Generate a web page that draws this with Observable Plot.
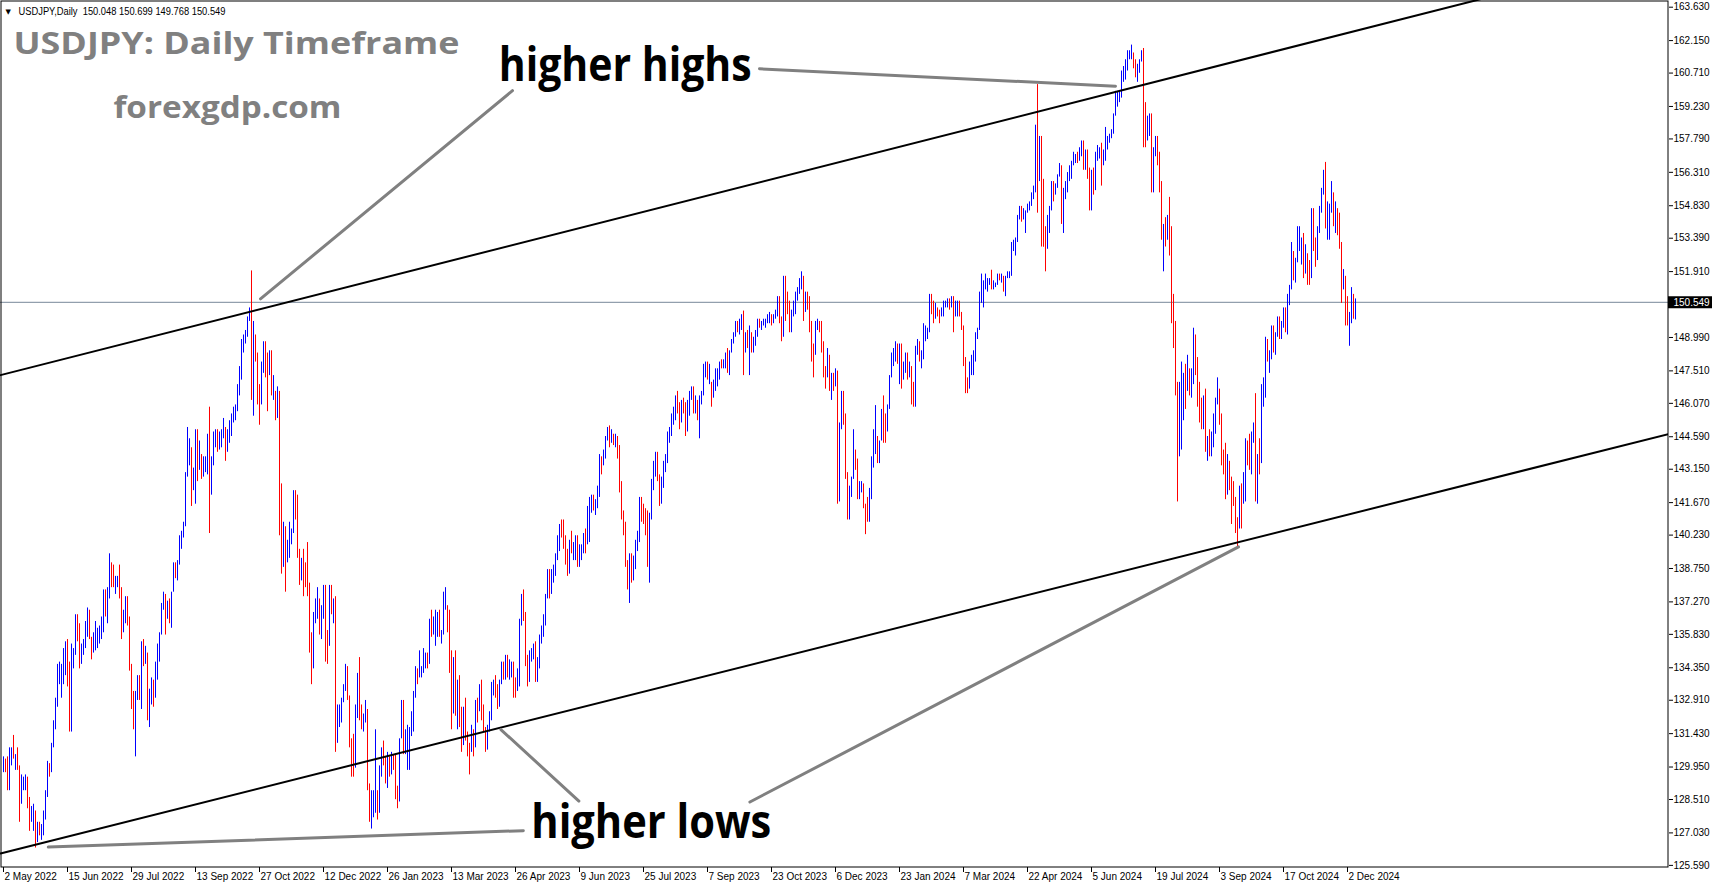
<!DOCTYPE html>
<html><head><meta charset="utf-8">
<script src="https://cdn.jsdelivr.net/npm/d3@7"></script>
<script src="https://cdn.jsdelivr.net/npm/@observablehq/plot@0.6"></script>
<style>html,body{margin:0;padding:0;background:#fff;overflow:hidden}</style>
</head><body><div id="chart"></div>
<script>
// ---------- DATA ----------
const symbol = "USDJPY", timeframe = "Daily";
const startDate = "2022-05-02";
const holidays = ["2022-12-26", "2023-12-25", "2024-01-01"];
const firstOpen = 129.9;
const lastOpen = 150.048;

const hi2022 = [
130.4,130.3,130.4,130.8,130.8,131.35,130.5,130.8,130.0,129.6,129.5,129.6,129.5,128.6,128.2,128.3,128.0,127.5,127.5,127.4,128.0,128.9,
130.2,130.1,131.0,132.0,133.0,134.5,134.6,134.5,135.2,135.5,135.6,134.6,135.4,135.2,136.7,136.7,136.3,135.4,135.6,136.4,137.0,136.9,
135.7,135.9,136.4,136.1,136.2,136.6,137.8,137.8,137.9,139.4,139.0,138.9,138.4,138.4,138.9,137.9,136.9,137.5,137.5,136.6,134.5,
133.3,133.3,134.0,134.0,135.5,135.6,135.3,135.0,133.4,133.9,133.8,134.6,135.4,135.9,137.2,137.7,137.6,137.3,137.4,137.7,139.0,139.0,139.1,
140.2,140.4,140.8,143.0,145.0,144.5,144.1,143.2,144.9,144.9,144.4,143.8,143.7,143.7,144.7,145.9,143.7,144.8,144.9,144.9,144.8,144.9,
145.4,145.0,144.9,145.3,145.6,145.9,146.0,146.9,147.7,148.9,149.1,149.3,149.9,150.3,151.94,149.7,149.1,148.3,146.9,147.9,148.8,
148.8,148.3,148.4,148.4,147.3,146.6,146.8,146.6,142.5,140.8,140.6,140.0,140.8,140.5,142.2,142.2,142.0,139.6,139.2,139.6,139.0,139.9,
138.1,135.9,136.8,137.4,137.9,137.4,137.1,138.0,138.0,136.0,138.0,138.0,137.4,137.5,132.7,132.7,133.0,133.6,134.5,134.4,133.1];
const lo2022 = [
129.7,129.7,128.9,128.9,130.0,130.3,129.8,129.8,127.5,128.3,128.9,128.9,128.1,127.1,127.5,127.1,126.36,126.6,126.9,126.7,126.9,127.6,
128.6,129.5,129.7,130.8,131.6,132.6,133.6,133.0,133.6,134.0,133.5,131.5,131.5,134.3,134.9,135.5,134.3,134.5,134.9,135.2,135.7,135.6,
134.7,135.0,135.1,135.2,135.4,135.6,135.9,136.6,136.3,137.4,137.9,137.9,137.6,137.9,137.4,135.6,135.9,136.3,136.2,134.2,132.5,
131.6,130.4,132.9,132.9,132.5,134.4,134.5,132.0,131.7,132.7,132.6,133.0,133.8,134.6,135.8,136.9,135.8,136.5,136.3,136.1,137.7,138.3,138.2,
138.9,139.6,140.1,140.6,142.8,143.3,141.5,142.2,141.6,142.6,143.1,142.7,142.8,143.0,142.9,140.3,142.0,143.3,144.1,143.9,144.0,144.1,
144.5,143.5,143.9,144.3,144.6,145.2,145.3,145.7,146.4,147.1,148.3,148.7,149.0,149.7,146.2,145.5,147.9,146.0,145.1,146.0,147.4,
147.2,145.7,147.3,146.4,146.2,145.3,145.4,140.2,138.5,138.8,137.7,139.0,139.2,139.8,140.3,140.9,139.2,138.0,138.2,137.5,137.9,137.5,
135.0,133.6,134.3,136.3,136.5,135.8,135.6,136.5,134.6,134.5,135.3,136.7,136.3,130.6,131.0,131.7,131.9,132.8,133.3,132.9,130.8];
const cl2022 = [
130.2,130.1,129.1,130.2,130.6,130.3,130.4,129.9,128.3,129.2,129.2,129.4,128.2,127.8,127.9,127.9,126.8,127.3,127.1,127.1,127.6,128.7,
130.0,129.9,130.9,131.9,132.6,134.2,134.4,134.4,134.4,135.4,133.8,132.2,135.0,135.0,136.6,136.2,134.9,135.2,135.4,136.1,136.6,135.7,
135.2,135.7,135.9,135.9,136.0,136.1,137.4,136.9,137.4,138.9,138.5,138.2,138.2,138.2,137.4,136.1,136.6,136.9,136.6,134.3,133.3,
131.6,133.2,133.9,133.0,135.0,134.9,135.1,132.9,133.0,133.5,133.3,134.2,135.1,135.9,137.0,137.5,136.8,137.1,136.5,137.6,138.8,138.7,138.9,
140.2,140.2,140.5,142.8,144.0,144.0,142.6,142.8,144.6,143.2,143.4,142.9,143.2,143.7,144.1,142.4,143.3,144.7,144.7,144.2,144.4,144.7,
144.8,144.1,144.6,145.1,145.3,145.7,145.8,146.8,147.2,148.7,149.0,149.2,149.8,150.1,147.6,148.9,148.0,146.4,146.3,147.5,148.7,
148.2,147.9,148.2,146.6,146.6,145.6,146.4,141.0,138.8,140.2,139.3,139.5,140.2,140.4,142.1,141.2,139.6,138.6,139.2,138.9,138.7,138.0,
135.3,134.3,136.7,136.8,136.9,136.6,136.6,137.7,135.6,135.5,137.8,136.7,136.9,131.7,132.4,132.4,132.9,133.5,134.5,133.0,131.1];

const hi2023 = [
131.2,131.4,132.7,134.1,134.8,132.7,132.3,132.9,132.5,129.2,128.9,128.9,131.6,128.9,130.0,130.8,131.1,130.4,130.6,130.4,130.6,130.5,
130.5,129.1,131.2,132.9,132.9,131.6,131.8,131.7,132.4,133.3,134.4,134.3,135.1,134.4,135.2,135.0,135.0,136.5,136.9,136.6,
136.9,136.8,136.9,136.0,137.7,137.9,137.1,136.9,135.1,134.8,135.1,133.8,134.0,132.6,132.6,133.0,131.5,131.0,131.8,131.6,132.9,133.0,133.6,
133.8,132.7,131.7,131.8,132.4,133.7,133.8,134.0,133.6,133.8,134.6,134.6,134.9,134.9,134.7,134.6,134.6,133.9,134.3,136.5,
137.6,137.8,136.8,134.9,135.1,135.2,135.4,135.5,134.8,135.8,136.2,136.7,137.6,138.7,138.7,138.7,138.9,139.4,140.2,140.7,140.9,140.9,140.2,
139.6,140.0,140.4,139.9,140.2,140.2,139.8,139.8,140.3,140.5,141.5,141.9,142.0,142.0,141.8,142.4,143.8,143.7,144.0,144.6,145.0,145.07,
144.9,144.7,144.7,144.6,144.2,142.6,141.3,140.8,139.1,139.4,139.4,139.3,140.0,140.4,141.9,141.9,141.6,141.4,141.3,141.2,142.7,
143.5,143.9,143.9,142.9,142.8,143.5,143.8,144.8,145.0,145.6,145.9,146.4,146.6,146.1,146.2,146.3,146.1,146.2,146.6,146.8,146.8,146.4,146.2,
146.4,146.6,147.8,147.9,147.9,147.8,147.0,147.1,147.6,147.6,147.9,148.0,148.0,148.3,148.5,148.4,148.9,149.2,149.7,149.7,149.8,
150.0,150.16,149.2,149.3,149.5,149.2,149.0,149.3,149.8,149.8,149.7,149.8,149.8,150.0,150.1,150.0,150.0,150.2,150.8,150.8,149.9,151.7,
151.7,151.0,150.6,150.2,150.6,151.0,151.2,151.6,151.9,151.7,151.0,151.0,150.8,149.7,148.7,149.7,149.8,149.7,149.7,148.8,147.7,148.5,
148.2,147.4,147.4,147.6,147.5,145.2,146.6,146.6,145.6,143.0,142.4,142.8,144.9,144.0,143.6,142.6,142.6,142.5,141.6,141.9];
const lo2023 = [
129.5,129.5,129.9,132.1,132.0,131.6,131.5,131.9,128.9,127.5,127.2,127.7,127.9,127.6,127.9,129.5,130.0,129.2,129.0,129.5,129.6,129.8,
128.5,128.1,128.4,131.2,130.5,130.5,129.8,129.8,131.3,131.5,133.0,133.6,133.9,133.9,134.1,134.3,134.3,134.5,135.7,135.8,
135.3,135.7,135.7,135.4,135.8,136.9,135.9,134.1,131.6,132.3,132.2,131.6,131.7,130.6,130.9,131.1,130.4,129.6,130.6,130.4,130.8,131.9,132.4,
132.0,131.5,130.6,130.7,131.5,132.0,133.1,133.0,132.5,132.6,133.6,133.8,133.8,133.9,133.8,133.9,133.0,133.0,133.3,133.5,
136.2,136.4,134.4,133.5,133.7,134.6,134.7,133.7,133.7,134.3,135.4,135.7,136.2,137.4,137.4,137.6,138.1,138.4,139.1,139.5,140.1,139.6,138.9,
138.4,138.5,139.4,139.1,139.1,138.8,138.8,139.1,139.4,139.4,139.8,139.9,141.2,141.3,141.1,141.4,141.9,142.9,143.3,143.6,144.4,144.1,
144.3,144.2,144.1,143.6,142.1,140.9,140.2,138.8,137.8,137.2,138.1,138.2,138.7,139.5,139.9,140.8,140.7,140.2,138.8,138.1,140.9,
142.2,142.8,142.6,141.5,141.6,142.3,143.0,143.4,144.3,144.6,145.1,145.3,145.6,144.9,145.2,145.6,144.6,144.8,145.5,146.2,145.6,145.6,145.3,
144.5,146.0,146.4,147.2,147.1,146.9,145.9,146.3,146.6,146.8,147.1,147.6,147.6,147.6,147.4,147.3,148.3,148.7,149.0,149.2,149.1,
149.3,147.3,148.3,148.5,147.3,148.3,148.3,148.6,149.0,149.4,149.3,149.5,149.4,149.6,149.6,149.5,149.6,149.8,149.9,149.6,148.8,149.0,
149.7,150.0,149.2,149.2,149.9,150.0,150.6,150.9,151.1,149.7,150.1,150.2,149.2,147.9,147.2,148.2,149.3,149.2,148.3,147.2,146.7,147.2,
146.6,146.2,146.6,146.8,141.6,141.7,144.9,145.1,142.7,140.9,140.9,141.9,142.7,143.1,141.8,141.8,142.1,141.4,140.25,140.8];
const cl2023 = [
130.7,130.0,132.5,133.3,132.1,131.9,132.2,132.4,129.2,127.9,128.5,128.6,128.9,128.4,129.6,130.7,130.2,129.2,130.3,129.9,130.4,130.1,
128.8,128.6,131.2,132.6,131.0,131.4,131.4,131.4,132.4,133.1,134.1,133.9,134.2,134.2,134.9,134.9,134.7,136.4,136.2,136.2,
136.2,136.7,135.9,135.9,137.2,137.3,136.1,134.9,133.2,134.2,133.4,133.7,131.9,131.3,132.4,131.4,130.9,130.7,131.6,130.9,132.8,132.7,132.8,
132.4,131.7,131.3,131.8,132.2,133.6,133.7,133.6,132.6,133.8,134.5,134.1,134.7,134.2,134.2,134.4,133.7,133.6,133.9,136.3,
137.4,136.6,134.6,134.3,134.8,135.1,135.2,134.3,134.5,135.7,136.1,136.4,137.6,138.6,137.9,138.6,138.6,139.3,139.9,140.6,140.4,139.8,139.3,
138.8,140.0,139.6,139.6,140.1,139.0,139.4,139.6,140.2,140.0,140.3,141.8,141.9,141.5,141.6,142.1,143.7,143.5,143.6,144.5,144.8,144.3,
144.7,144.5,144.6,144.0,142.2,141.3,140.4,138.9,138.0,138.8,138.7,139.0,139.7,140.1,141.8,141.4,140.9,140.3,139.5,141.2,142.3,
143.4,143.4,142.6,141.8,142.5,143.4,143.7,144.7,144.9,145.5,145.6,146.3,145.8,145.4,146.2,145.9,144.8,146.1,146.4,146.5,145.9,146.2,145.5,
146.2,146.5,147.7,147.7,147.3,147.8,146.6,147.1,147.4,147.5,147.8,147.6,147.9,148.3,147.6,148.4,148.8,149.1,149.6,149.3,149.4,
149.9,149.0,149.1,148.5,149.3,148.5,148.7,149.1,149.8,149.5,149.7,149.8,149.8,149.9,149.9,149.7,149.9,150.2,150.4,149.6,149.1,151.7,
150.9,150.4,149.4,150.0,150.3,150.9,151.0,151.5,151.6,150.4,151.0,150.6,149.6,148.4,148.3,149.6,149.6,149.4,148.7,147.5,147.2,148.2,
146.8,147.3,147.2,147.3,144.2,144.9,146.2,145.4,142.9,141.9,142.1,142.8,143.7,143.5,142.1,142.4,142.4,141.7,141.4,141.0];

const hi2024 = [
142.3,143.7,144.9,145.97,144.6,144.4,145.8,146.4,145.6,146.0,147.3,148.3,148.5,148.8,148.7,148.7,148.7,147.9,148.3,148.3,147.9,147.7,
147.0,148.6,148.9,148.8,148.4,149.6,149.5,149.4,150.9,150.9,150.6,150.5,150.3,150.2,150.3,150.6,150.6,150.7,150.7,150.8,150.8,
150.6,150.6,150.6,150.1,149.5,148.1,147.2,147.9,148.2,148.4,149.2,149.4,151.0,151.8,151.5,151.8,151.6,151.6,151.97,151.5,151.4,
151.8,151.8,151.8,151.7,151.7,151.9,151.9,153.2,153.3,153.4,154.4,154.8,154.8,154.7,154.6,154.9,155.0,155.4,155.7,158.4,160.2,157.9,
157.9,156.0,153.9,154.4,154.8,155.9,155.9,155.8,156.2,156.7,156.6,155.6,155.9,156.3,156.6,156.8,157.2,157.1,157.2,157.4,157.7,157.7,157.3,
157.3,156.5,156.4,156.5,157.2,157.5,157.4,157.6,157.3,158.3,157.9,158.0,158.2,158.9,159.9,159.9,159.9,160.8,161.0,161.3,
161.7,161.7,161.95,161.6,161.3,161.1,161.3,161.7,161.8,159.4,158.8,158.9,158.9,157.4,157.9,157.9,157.2,155.9,154.0,154.3,154.4,155.2,153.9,
150.9,149.7,147.0,147.0,147.9,147.4,147.8,148.2,147.6,147.6,149.4,149.1,148.1,147.0,146.3,146.4,146.7,144.6,144.9,144.8,145.6,146.3,
147.2,146.7,145.6,144.0,144.3,143.8,143.5,142.8,142.6,141.9,141.0,142.4,142.5,143.0,144.5,144.4,144.7,144.8,145.2,146.5,143.8,
144.5,146.9,147.2,149.0,148.9,148.4,149.5,149.5,149.2,149.9,149.9,149.7,150.3,150.3,150.9,151.3,153.2,152.8,152.5,153.9,153.9,153.4,153.6,
153.1,152.7,152.4,154.7,154.7,153.4,153.9,154.8,155.6,156.4,156.75,155.0,154.9,155.9,155.4,155.0,154.7,154.5,153.2,152.0,151.7,
150.8,150.1,151.2,150.9,150.699];
const lo2024 = [
140.8,141.8,143.2,143.8,143.4,143.4,144.4,144.3,144.3,144.8,145.8,147.2,147.7,147.9,147.8,146.9,146.7,147.1,147.4,147.1,147.2,146.0,
145.9,145.9,148.2,147.9,147.6,148.0,148.8,148.9,149.2,150.0,149.6,149.8,149.9,149.6,149.9,149.9,150.3,150.3,150.2,150.3,149.2,
149.9,149.9,149.9,149.3,147.7,146.5,146.5,146.7,147.3,147.3,147.9,148.9,149.3,150.5,150.3,151.1,151.0,151.3,151.1,151.1,151.2,
151.3,151.5,151.4,151.0,150.8,151.6,151.6,151.7,152.8,152.6,153.2,154.2,154.1,154.2,153.6,154.5,154.6,154.8,155.1,155.4,154.5,155.9,
153.0,152.99,151.9,152.9,153.6,154.6,155.0,155.3,155.6,156.1,154.0,153.6,155.1,155.4,155.9,156.0,156.6,156.7,156.7,156.8,157.0,156.4,156.4,
156.0,154.6,154.6,155.3,155.5,156.8,156.9,155.7,156.6,156.8,157.3,157.6,157.8,158.0,158.8,159.2,159.4,159.6,160.3,160.4,
160.8,161.3,161.3,160.9,160.5,160.3,160.7,161.2,157.4,157.4,157.7,157.9,155.4,155.4,157.0,156.6,155.4,153.3,151.9,153.0,153.3,152.6,149.6,
148.5,146.4,141.7,143.7,144.0,145.3,145.8,146.6,146.4,146.3,146.9,147.3,145.9,145.2,144.9,144.9,143.9,143.5,143.7,143.7,144.1,144.7,
146.0,145.1,143.3,142.9,141.8,142.0,142.2,140.7,141.5,140.3,139.6,140.5,140.5,141.6,141.7,143.3,143.1,142.9,144.3,141.7,141.6,
142.9,143.4,145.9,146.3,147.9,147.4,148.0,148.3,148.2,149.0,148.9,148.9,149.4,149.2,149.1,150.4,151.1,151.5,151.4,152.3,152.8,152.2,151.6,
151.8,151.3,151.3,151.6,152.8,152.1,152.4,153.6,154.5,155.3,153.8,153.3,153.3,154.5,153.9,153.6,153.5,152.9,150.5,151.1,149.5,
149.5,148.6,149.6,149.8,149.768];
const cl2024 = [
142.0,143.3,144.6,144.6,144.2,144.4,145.7,145.3,144.9,145.8,147.2,148.1,148.2,148.2,148.1,148.4,147.5,147.7,148.1,147.5,147.6,146.9,
146.4,148.4,148.7,147.9,148.2,149.3,149.3,149.3,150.8,150.6,149.9,150.2,150.1,149.9,150.2,150.5,150.5,150.7,150.5,150.6,149.9,
150.1,150.5,150.0,149.4,148.0,147.0,146.9,147.7,147.7,148.4,149.1,149.1,150.9,151.3,151.3,151.4,151.4,151.6,151.3,151.3,151.4,
151.7,151.6,151.6,151.3,151.6,151.8,151.8,153.2,153.2,153.3,154.3,154.7,154.4,154.6,154.6,154.8,154.8,155.4,155.6,158.3,156.3,157.8,
155.7,153.1,153.0,153.9,154.7,155.6,155.5,155.7,156.2,156.5,154.4,155.4,155.6,156.2,156.2,156.8,157.0,157.0,156.9,157.2,157.6,156.8,157.3,
156.1,154.8,156.1,155.6,156.8,157.0,157.1,156.7,157.0,157.4,157.7,157.8,158.1,158.9,159.7,159.7,159.7,160.8,160.8,160.9,
161.5,161.5,161.5,161.3,160.8,160.8,161.3,161.6,158.8,157.9,158.1,158.4,156.2,157.3,157.5,157.0,155.7,153.9,153.9,153.8,153.9,152.7,149.9,
149.4,146.5,144.2,144.3,146.8,147.2,146.6,147.2,146.8,147.2,149.3,147.6,146.6,145.3,145.2,146.3,144.4,144.5,143.9,144.6,144.9,146.2,
147.0,145.5,143.7,143.4,142.3,143.1,142.5,142.4,141.8,140.9,140.6,142.4,142.2,142.7,143.9,143.6,143.2,144.8,144.8,142.2,143.6,
143.5,146.5,146.9,148.7,148.2,148.2,149.3,148.6,149.1,149.7,149.2,149.6,150.0,149.5,150.8,151.1,152.7,151.8,152.3,153.3,153.4,153.4,152.0,
152.9,152.3,151.6,154.6,152.9,152.6,153.7,154.6,155.4,156.3,154.3,154.6,154.6,155.4,154.5,154.8,154.2,153.0,151.1,151.5,149.8,
149.6,149.6,150.6,150.05,150.549];

const xLabels = ["2 May 2022","15 Jun 2022","29 Jul 2022","13 Sep 2022","27 Oct 2022","12 Dec 2022","26 Jan 2023","13 Mar 2023","26 Apr 2023","9 Jun 2023","25 Jul 2023","7 Sep 2023","23 Oct 2023","6 Dec 2023","23 Jan 2024","7 Mar 2024","22 Apr 2024","5 Jun 2024","19 Jul 2024","3 Sep 2024","17 Oct 2024","2 Dec 2024"];
const yTicks = [163.63,162.15,160.71,159.23,157.79,156.31,154.83,153.39,151.91,148.99,147.51,146.07,144.59,143.15,141.67,140.23,138.75,137.27,135.83,134.35,132.91,131.43,129.95,128.51,127.03,125.59];

// channel lines and annotations (bar index, price)
const upperChannel = [{i: -1.5, p: 147.32}, {i: 760, p: 164.47}];
const lowerChannel = [{i: -1.5, p: 126.12}, {i: 832.5, p: 144.71}];
const pointerLines = [
  [{i: 254.5, p: 159.93}, {i: 128.5, p: 150.70}],
  [{i: 378.0, p: 160.90}, {i: 556.0, p: 160.13}],
  [{i: 22.4, p: 126.40}, {i: 259.9, p: 127.13}],
  [{i: 248.7, p: 131.61}, {i: 287.7, p: 128.44}],
  [{i: 373.2, p: 128.40}, {i: 617.5, p: 139.71}]
];
const annotations = [
  {label: "higher highs", i: 247.6, p: 160.36},
  {label: "higher lows", i: 263.9, p: 126.81}
];
const titleText = "USDJPY: Daily Timeframe";
const siteText = "forexgdp.com";

// ---------- BUILD ----------
const hi = [...hi2022, ...hi2023, ...hi2024];
const lo = [...lo2022, ...lo2023, ...lo2024];
const cl = [...cl2022, ...cl2023, ...cl2024];
const n = cl.length;

const hol = new Set(holidays);
const dates = [];
for (let d = new Date(startDate + "T00:00:00Z"); dates.length < n; d = new Date(d.getTime() + 864e5)) {
  const wd = d.getUTCDay(), key = d.toISOString().slice(0, 10);
  if (wd !== 0 && wd !== 6 && !hol.has(key)) dates.push(key);
}
const bars = cl.map((c, i) => {
  const o = i === n - 1 ? lastOpen : i === 0 ? firstOpen : cl[i - 1];
  return {i, date: dates[i], o, h: hi[i], l: lo[i], c, color: c >= o ? "#0000ff" : "#ff0000"};
});
const parse = d3.utcParse("%d %b %Y"), fmt = d3.utcFormat("%Y-%m-%d");
const labelData = xLabels.map(s => ({label: s, i: dates.indexOf(fmt(parse(s)))}));
const last = bars[n - 1];
const headerText = `${symbol},${timeframe}  ${last.o.toFixed(3)} ${last.h.toFixed(3)} ${last.l.toFixed(3)} ${last.c.toFixed(3)}`;

const W = 1714, H = 888, mR = 46, mB = 21;
const xDomain = [-1.5, 832.5];
const yDomain = [125.496, 163.927];
const pointerData = pointerLines.flatMap((seg, k) => seg.map(d => ({...d, k})));

const svg = Plot.plot({
  width: W, height: H,
  marginTop: 0, marginLeft: 0, marginRight: mR, marginBottom: mB,
  x: {domain: xDomain, axis: null},
  y: {domain: yDomain, axis: null},
  style: {background: "#ffffff", fontFamily: "'Liberation Sans', Arial, sans-serif", fontSize: "10px", color: "#000"},
  marks: [
    Plot.ruleY([last.c], {stroke: "#778899", strokeWidth: 1}),
    Plot.ruleX(bars, {x: "i", y1: "l", y2: "h", stroke: "color", strokeWidth: 1, ariaLabel: "bars"}),
    Plot.line(upperChannel, {x: "i", y: "p", stroke: "#000", strokeWidth: 2, clip: true}),
    Plot.line(lowerChannel, {x: "i", y: "p", stroke: "#000", strokeWidth: 2, clip: true}),
    Plot.line(pointerData, {x: "i", y: "p", z: "k", stroke: "#808080", strokeWidth: 3}),
    Plot.text(annotations, {x: "i", y: "p", text: "label", textAnchor: "start", lineAnchor: "bottom",
      fontSize: 47, fontWeight: "bold", fontFamily: "'Open Sans', sans-serif", fill: "#000"}),
    Plot.text([titleText], {text: d => d, frameAnchor: "top-left", dx: 13, dy: 53, textAnchor: "start", lineAnchor: "bottom",
      fontSize: 30, fontWeight: "bold", fontFamily: "'Open Sans', sans-serif", fill: "#808080"}),
    Plot.text([siteText], {text: d => d, frameAnchor: "top-left", dx: 113, dy: 117, textAnchor: "start", lineAnchor: "bottom",
      fontSize: 31, fontWeight: "bold", fontFamily: "'Open Sans', sans-serif", fill: "#808080"}),
    Plot.text(["▼"], {text: d => d, frameAnchor: "top-left", dx: 5, dy: 11, textAnchor: "start", lineAnchor: "middle",
      fontSize: 7, fontFamily: "'DejaVu Sans', sans-serif", fill: "#000"}),
    Plot.text([headerText], {text: d => d, frameAnchor: "top-left", dx: 18, dy: 11, textAnchor: "start", lineAnchor: "middle",
      fontSize: 10, fill: "#000"}),
    Plot.frame({stroke: "#000", strokeWidth: 1, inset: 0.5}),
    Plot.axisY(yTicks, {anchor: "right", tickSize: 4, tickPadding: 1, tickFormat: d => d.toFixed(3), label: null, fontSize: 10, stroke: "#000", fill: "#000"}),
    Plot.axisX(labelData.map(d => d.i), {anchor: "bottom", tickSize: 5, tickFormat: () => "", label: null, stroke: "#000"}),
    Plot.text(labelData, {x: "i", text: "label", frameAnchor: "bottom", dy: 9, dx: 1, textAnchor: "start", lineAnchor: "middle", fontSize: 10, fill: "#000"}),
    Plot.ruleY([last.c], {x1: xDomain[1], x2: xDomain[1] + 22, stroke: "#000", strokeWidth: 12}),
    Plot.text([last.c], {y: d => d, text: d => d.toFixed(3), frameAnchor: "right", dx: 5, textAnchor: "start", lineAnchor: "middle", fill: "#fff", fontSize: 10})
  ]
});

// snap the 1px bars to whole pixels so they render as solid lines
const barGroup = svg.querySelector('g[aria-label="bars"]');
if (barGroup) {
  const m = /translate\(([-\d.]+)\s*,?\s*([-\d.]*)\)/.exec(barGroup.getAttribute("transform") || "");
  const tx = m ? +m[1] : 0;
  barGroup.removeAttribute("transform");
  barGroup.setAttribute("shape-rendering", "crispEdges");
  barGroup.querySelectorAll("line").forEach(l => {
    const x = Math.floor(+l.getAttribute("x1") + tx) + 0.5;
    l.setAttribute("x1", x); l.setAttribute("x2", x);
  });
}

const widths = new Map([["higher highs", 253], ["higher lows", 240], [titleText, 446], [siteText, 228], [headerText, 207]]);
svg.querySelectorAll("text").forEach(t => {
  const w = widths.get(t.textContent);
  if (w) { t.setAttribute("textLength", w); t.setAttribute("lengthAdjust", "spacingAndGlyphs"); }
});
document.getElementById("chart").appendChild(svg);

const lens = [[hi2022, lo2022, cl2022], [hi2023, lo2023, cl2023], [hi2024, lo2024, cl2024]].map(a => a.map(x => x.length).join("/"));
if (lens.some(s => new Set(s.split("/")).size > 1) || labelData.some(d => d.i < 0)) {
  const div = document.createElement("div");
  div.style.cssText = "position:absolute;top:300px;left:300px;font:20px sans-serif;color:magenta";
  div.textContent = "LENGTH MISMATCH " + lens.join(" | ") + " labels " + labelData.map(d => d.i).join(",");
  document.body.appendChild(div);
}
</script>
</body></html>
